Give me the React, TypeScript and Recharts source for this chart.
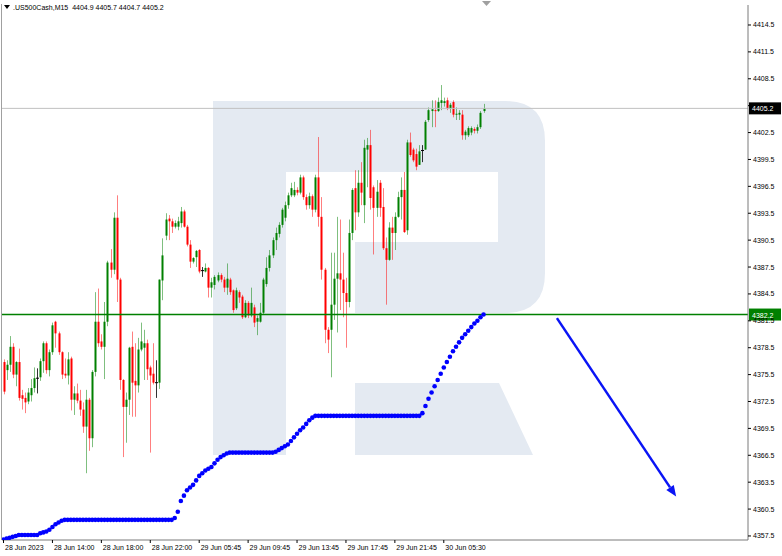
import React from 'react';
import { ComposedChart, Bar, Line, XAxis, YAxis, ReferenceLine } from 'recharts';

// M15 candles
const opens = [
  4376.9, 4376.0, 4376.6, 4378.6, 4375.5, 4376.9, 4373.2, 4372.9, 4372.5, 4373.2,
  4374.0, 4375.1, 4375.2, 4377.0, 4379.0, 4376.0, 4378.0, 4381.4, 4380.1, 4378.0,
  4375.6, 4375.4, 4377.3, 4372.7, 4373.4, 4372.6, 4371.6, 4369.7, 4372.7, 4368.4,
  4375.8, 4381.4, 4379.2, 4378.6, 4381.4, 4388.0, 4387.2, 4393.0, 4386.1, 4374.9,
  4371.9, 4372.7, 4378.6, 4374.8, 4374.3, 4378.3, 4378.5, 4379.0, 4376.3, 4375.6,
  4374.6, 4374.6, 4386.0, 4391.0, 4392.9, 4392.6, 4392.0, 4392.0, 4392.4, 4393.7,
  4392.0, 4390.0, 4388.1, 4388.6, 4389.4, 4387.1, 4387.0, 4387.4, 4385.2, 4385.5,
  4386.0, 4386.6, 4386.1, 4385.2, 4386.1, 4384.9, 4382.9, 4384.7, 4384.2, 4381.9,
  4383.5, 4382.1, 4383.0, 4381.4, 4381.4, 4382.4, 4385.6, 4387.4, 4388.8, 4390.5,
  4391.2, 4392.2, 4393.0, 4394.4, 4395.5, 4395.5, 4396.1, 4395.8, 4397.5, 4395.3,
  4394.4, 4395.4, 4393.9, 4397.5, 4393.1, 4387.2, 4380.5, 4380.5, 4383.3, 4386.2,
  4386.8, 4386.1, 4384.6, 4383.6, 4391.3, 4396.3, 4393.6, 4396.9, 4394.4, 4400.6,
  4401.1, 4396.4, 4394.1, 4396.9, 4394.2, 4389.6, 4388.3, 4391.9, 4391.3, 4393.1,
  4395.3, 4396.1, 4391.6, 4401.4, 4400.6, 4400.1, 4398.9, 4400.5, 4400.6, 4403.9,
  4404.9, 4405.0, 4404.9, 4405.8, 4405.8, 4406.1, 4405.2, 4405.9, 4404.5, 4404.5,
  4404.5, 4402.2, 4402.2, 4402.5, 4402.9, 4402.7, 4403.1, 4404.9,
];
const highs = [
  4377.2, 4377.1, 4379.8, 4379.0, 4377.0, 4378.4, 4373.8, 4373.5, 4374.0, 4375.0,
  4376.3, 4376.2, 4377.3, 4379.2, 4379.2, 4378.3, 4381.3, 4381.5, 4380.3, 4378.1,
  4377.3, 4378.0, 4377.5, 4374.2, 4374.5, 4373.8, 4372.4, 4373.8, 4372.9, 4376.0,
  4384.7, 4385.1, 4380.0, 4383.6, 4388.2, 4389.5, 4393.6, 4395.5, 4386.3, 4375.0,
  4373.5, 4378.6, 4380.3, 4379.0, 4379.6, 4381.3, 4380.5, 4379.4, 4376.5, 4379.0,
  4377.1, 4386.1, 4390.7, 4393.5, 4393.3, 4392.9, 4392.7, 4393.1, 4394.2, 4393.9,
  4392.2, 4390.5, 4388.6, 4389.4, 4389.5, 4387.5, 4387.9, 4387.5, 4386.3, 4386.6,
  4386.9, 4386.8, 4386.4, 4387.9, 4386.3, 4385.0, 4385.2, 4384.9, 4384.4, 4383.8,
  4383.7, 4385.2, 4383.3, 4382.1, 4383.5, 4386.3, 4388.6, 4389.4, 4390.8, 4391.9,
  4392.5, 4394.1, 4394.8, 4395.8, 4396.9, 4397.0, 4396.4, 4397.8, 4397.7, 4395.6,
  4395.8, 4395.6, 4397.8, 4402.0, 4395.3, 4387.4, 4380.8, 4389.1, 4389.1, 4393.1,
  4392.8, 4389.1, 4386.3, 4392.8, 4396.3, 4398.3, 4398.3, 4399.2, 4401.7, 4401.9,
  4402.8, 4396.6, 4397.2, 4397.2, 4396.3, 4390.8, 4392.5, 4393.1, 4393.6, 4395.9,
  4397.5, 4398.1, 4401.7, 4402.5, 4400.8, 4400.7, 4401.1, 4401.1, 4403.9, 4405.3,
  4406.1, 4406.1, 4406.4, 4407.8, 4406.4, 4406.4, 4405.8, 4406.1, 4405.3, 4405.0,
  4405.0, 4402.8, 4403.2, 4403.2, 4403.1, 4403.4, 4404.9, 4405.7,
];
const lows = [
  4373.3, 4374.9, 4375.8, 4375.1, 4374.2, 4372.6, 4371.6, 4371.2, 4372.2, 4372.5,
  4373.5, 4373.4, 4374.8, 4375.7, 4375.6, 4375.3, 4377.7, 4378.5, 4377.7, 4375.0,
  4375.1, 4374.4, 4371.5, 4371.0, 4372.3, 4370.9, 4369.0, 4364.5, 4367.0, 4367.4,
  4375.3, 4378.6, 4378.3, 4375.0, 4380.9, 4386.3, 4386.7, 4383.6, 4373.8, 4366.3,
  4367.9, 4371.0, 4370.8, 4370.8, 4373.5, 4378.1, 4374.9, 4374.9, 4366.8, 4374.4,
  4372.9, 4373.9, 4383.8, 4390.5, 4390.5, 4391.3, 4391.8, 4391.6, 4391.9, 4391.9,
  4389.8, 4387.4, 4387.9, 4387.5, 4386.8, 4386.4, 4386.9, 4384.1, 4384.1, 4385.0,
  4385.8, 4385.8, 4384.7, 4384.4, 4384.4, 4382.4, 4382.7, 4383.5, 4381.7, 4381.8,
  4381.8, 4381.9, 4380.8, 4379.9, 4381.3, 4382.2, 4385.3, 4387.0, 4388.5, 4389.4,
  4390.8, 4391.9, 4392.6, 4394.0, 4395.3, 4395.3, 4395.5, 4395.6, 4395.0, 4393.9,
  4394.0, 4393.1, 4393.6, 4392.0, 4386.1, 4379.0, 4377.9, 4375.2, 4381.6, 4380.2,
  4382.7, 4381.9, 4378.5, 4383.0, 4390.5, 4391.6, 4393.1, 4394.4, 4392.4, 4396.4,
  4393.9, 4388.9, 4393.1, 4393.1, 4389.4, 4383.3, 4388.2, 4388.3, 4389.4, 4393.0,
  4392.8, 4391.3, 4391.1, 4399.8, 4399.2, 4398.3, 4398.9, 4399.2, 4400.6, 4403.7,
  4403.1, 4403.1, 4404.8, 4405.0, 4405.4, 4405.0, 4404.7, 4404.2, 4403.9, 4403.9,
  4401.7, 4401.7, 4402.0, 4402.2, 4402.4, 4402.4, 4402.9, 4404.7,
];
const closes = [
  4373.6, 4376.6, 4378.6, 4375.5, 4376.9, 4372.9, 4372.8, 4372.4, 4373.5, 4374.0,
  4375.1, 4375.1, 4377.0, 4379.0, 4376.0, 4378.0, 4381.0, 4380.1, 4378.0, 4375.5,
  4375.4, 4377.2, 4372.7, 4373.4, 4372.6, 4371.6, 4369.7, 4372.7, 4368.4, 4375.8,
  4381.4, 4379.0, 4378.6, 4381.4, 4388.0, 4387.2, 4393.0, 4386.1, 4374.9, 4371.9,
  4372.7, 4378.5, 4374.6, 4374.3, 4378.3, 4379.2, 4379.0, 4376.1, 4375.4, 4374.6,
  4374.6, 4386.1, 4388.8, 4392.8, 4392.6, 4392.0, 4392.4, 4392.6, 4393.7, 4392.0,
  4390.0, 4388.1, 4388.5, 4389.3, 4387.0, 4387.1, 4387.4, 4385.2, 4385.8, 4386.4,
  4386.6, 4386.1, 4385.2, 4386.2, 4384.7, 4382.7, 4384.9, 4384.1, 4381.9, 4383.5,
  4382.1, 4383.5, 4381.3, 4381.8, 4382.4, 4386.1, 4387.4, 4388.8, 4390.5, 4391.3,
  4392.2, 4393.9, 4394.4, 4395.5, 4396.3, 4396.1, 4395.8, 4397.5, 4395.3, 4394.4,
  4395.4, 4393.9, 4397.5, 4393.1, 4387.2, 4380.5, 4379.4, 4383.3, 4386.2, 4386.8,
  4386.1, 4384.6, 4383.6, 4391.3, 4396.1, 4393.6, 4396.9, 4395.8, 4400.8, 4401.1,
  4395.2, 4394.1, 4395.9, 4394.1, 4389.6, 4388.3, 4391.9, 4391.3, 4393.1, 4395.3,
  4396.1, 4391.4, 4401.4, 4400.0, 4399.4, 4398.7, 4400.4, 4400.5, 4403.7, 4405.0,
  4405.1, 4404.9, 4405.9, 4406.1, 4406.0, 4405.2, 4405.6, 4404.5, 4404.6, 4404.7,
  4402.2, 4402.6, 4403.0, 4403.0, 4402.7, 4403.1, 4404.7, 4405.2,
];
// blue dotted trailing line, one dot per candle
const trailDots = [
  4357.1, 4357.2, 4357.3, 4357.4, 4357.5, 4357.6, 4357.6, 4357.6, 4357.6, 4357.6,
  4357.6, 4357.6, 4357.8, 4357.9, 4358.0, 4358.2, 4358.5, 4358.8, 4359.0, 4359.2,
  4359.3, 4359.3, 4359.3, 4359.3, 4359.3, 4359.3, 4359.3, 4359.3, 4359.3, 4359.3,
  4359.3, 4359.3, 4359.3, 4359.3, 4359.3, 4359.3, 4359.3, 4359.3, 4359.3, 4359.3,
  4359.3, 4359.3, 4359.3, 4359.3, 4359.3, 4359.3, 4359.3, 4359.3, 4359.3, 4359.3,
  4359.3, 4359.3, 4359.3, 4359.3, 4359.3, 4359.3, 4359.5, 4360.2, 4361.4, 4362.0,
  4362.6, 4362.9, 4363.2, 4363.7, 4364.2, 4364.5, 4364.8, 4365.0, 4365.2, 4365.6,
  4366.0, 4366.3, 4366.5, 4366.7, 4366.8, 4366.8, 4366.8, 4366.8, 4366.8, 4366.8,
  4366.8, 4366.8, 4366.8, 4366.8, 4366.8, 4366.8, 4366.8, 4366.8, 4366.8, 4366.9,
  4367.1, 4367.3, 4367.5, 4367.7, 4368.1, 4368.5, 4368.9, 4369.3, 4369.6, 4370.0,
  4370.4, 4370.7, 4370.9, 4370.9, 4370.9, 4370.9, 4370.9, 4370.9, 4370.9, 4370.9,
  4370.9, 4370.9, 4370.9, 4370.9, 4370.9, 4370.9, 4370.9, 4370.9, 4370.9, 4370.9,
  4370.9, 4370.9, 4370.9, 4370.9, 4370.9, 4370.9, 4370.9, 4370.9, 4370.9, 4370.9,
  4370.9, 4370.9, 4370.9, 4370.9, 4370.9, 4370.9, 4370.9, 4371.2, 4372.0, 4372.8,
  4373.5, 4374.2, 4374.9, 4375.6, 4376.3, 4376.9, 4377.5, 4378.1, 4378.6, 4379.1,
  4379.6, 4380.0, 4380.4, 4380.8, 4381.2, 4381.5, 4381.9, 4382.2,
];

const tickSlots = [0, 16, 32, 48, 64, 80, 96, 112, 128, 144];
const tickLabels = [
  '28 Jun 2023', '28 Jun 14:00', '28 Jun 18:00', '28 Jun 22:00', '29 Jun 05:45',
  '29 Jun 09:45', '29 Jun 13:45', '29 Jun 17:45', '29 Jun 21:45', '30 Jun 05:30',
];
const priceTicks = [
  4357.5, 4360.5, 4363.5, 4366.5, 4369.5, 4372.5, 4375.5, 4378.5, 4381.5, 4384.5,
  4387.5, 4390.5, 4393.5, 4396.5, 4399.5, 4402.5, 4405.5, 4408.5, 4411.5, 4414.5,
];
const levelPrice = 4382.2;
const lastPrice = 4405.2;
const arrowFrom = { slot: 181, price: 4381.8 };
const arrowTo = { slot: 220, price: 4361.9 };
const slotCount = 244;

const FONT = '"Liberation Sans", Arial, sans-serif';

const rows = Array.from({ length: slotCount }, (_, i) =>
  i < opens.length
    ? { slot: i, range: [lows[i], highs[i]], open: opens[i], close: closes[i], trail: trailDots[i] }
    : { slot: i }
);

const Candle = (props: any) => {
  const { x, y, width, height, payload } = props;
  if (!payload || payload.open == null) return null;
  const top = Math.min(y, y + height);
  const h = Math.abs(height);
  const [lo, hi] = payload.range;
  const k = h / (hi - lo || 1);
  const cx = Math.round(x + width / 2);
  const yo = top + (hi - payload.open) * k;
  const yc = top + (hi - payload.close) * k;
  const up = payload.close > payload.open;
  const flat = payload.close === payload.open;
  const col = flat ? '#000000' : up ? '#008000' : '#ff0000';
  const bt = Math.min(yo, yc);
  const bh = Math.max(Math.abs(yc - yo), 1);
  return (
    <g>
      <line x1={cx + 0.5} x2={cx + 0.5} y1={top} y2={top + h} stroke={col} strokeOpacity={flat ? 0.8 : 0.5} strokeWidth={1} />
      {flat ? (
        <line x1={cx - 1} x2={cx + 2} y1={yo} y2={yo} stroke={col} strokeWidth={1} />
      ) : (
        <rect x={cx - 0.5} y={bt} width={2} height={bh} fill={col} />
      )}
    </g>
  );
};

const TimeTick = (props: any) => {
  const { x, y, payload } = props;
  const n = tickSlots.indexOf(payload.value);
  if (n < 0) return null;
  return (
    <g>
      <line x1={x} x2={x} y1={y} y2={y + 3} stroke="#000" strokeWidth={1} />
      <text x={x + 1.5} y={y + 10} fontSize={7} fontFamily={FONT} fill="#000" textAnchor="start">
        {tickLabels[n]}
      </text>
    </g>
  );
};

// the price tag of the last bid hides the tick right under it
const PriceTick = (props: any) => {
  const { x, y, payload } = props;
  if (Math.abs(payload.value - lastPrice) < 0.6) return null;
  return (
    <text x={x} y={y + 2.5} fontSize={7} fontFamily={FONT} fill="#000" textAnchor="start">
      {payload.value.toFixed(1)}
    </text>
  );
};

const PriceTag = (props: any) => {
  const { viewBox, bg, value } = props;
  if (!viewBox) return null;
  const x = viewBox.x + viewBox.width + 1;
  const y = viewBox.y;
  return (
    <g>
      <rect x={x} y={y - 6} width={32} height={12} fill={bg} />
      <text x={x + 3} y={y + 3} fontSize={7} fontFamily={FONT} fill="#fff">
        {value.toFixed(1)}
      </text>
    </g>
  );
};

const ArrowShape = (props: any) => {
  const { x1, y1, x2, y2 } = props;
  if ([x1, y1, x2, y2].some((v) => v == null || isNaN(v))) return null;
  const a = Math.atan2(y2 - y1, x2 - x1);
  const len = 11;
  const wd = 4.5;
  const bx = x2 - len * Math.cos(a);
  const by = y2 - len * Math.sin(a);
  const p1 = `${bx + wd * Math.sin(a)},${by - wd * Math.cos(a)}`;
  const p2 = `${bx - wd * Math.sin(a)},${by + wd * Math.cos(a)}`;
  return (
    <g>
      <line x1={x1} y1={y1} x2={bx} y2={by} stroke="#0a14f5" strokeWidth={2.5} />
      <polygon points={`${x2},${y2} ${p1} ${p2}`} fill="#0a14f5" />
    </g>
  );
};

// light logo in the background
const Watermark = () => (
  <svg width={782} height={556} style={{ position: 'absolute', left: 0, top: 0 }}>
    <g fill="#e4eaf2">
      <rect x={213} y={101} width={73} height={354} />
      <path d="M286,101 H505 Q545,101 545,141 V273 Q545,313 505,313 H355 V242 H498 V172 H286 Z" />
      <path d="M355,383 H499 L533,455 H355 Z" />
    </g>
  </svg>
);

export default function App() {
  return (
    <div style={{ position: 'relative', width: 782, height: 556, background: '#fff', overflow: 'hidden' }}>
      <style>{`body{margin:0}`}</style>
      <Watermark />
      <ComposedChart
        width={782}
        height={556}
        data={rows}
        margin={{ top: 5, right: 0, bottom: 0, left: 2 }}
        barCategoryGap={0}
      >
        <XAxis
          dataKey="slot"
          type="category"
          ticks={tickSlots}
          interval={0}
          height={16}
          tickSize={0}
          tickMargin={0}
          tick={<TimeTick />}
          axisLine={{ stroke: '#7a7a7a' }}
          tickLine={false}
        />
        <YAxis
          orientation="right"
          width={34}
          domain={[4357.05, 4416.73]}
          allowDataOverflow
          ticks={priceTicks}
          interval={0}
          tickSize={3}
          tickMargin={2}
          tick={<PriceTick />}
          tickLine={{ stroke: '#000' }}
          axisLine={{ stroke: '#7a7a7a' }}
        />
        <ReferenceLine y={lastPrice} stroke="#c0c0c0" strokeWidth={1} ifOverflow="visible" label={<PriceTag bg="#000000" value={lastPrice} />} />
        <ReferenceLine y={levelPrice} stroke="#008000" strokeWidth={1.6} ifOverflow="visible" label={<PriceTag bg="#008000" value={levelPrice} />} />
        <Bar dataKey="range" shape={<Candle />} isAnimationActive={false} />
        <Line
          dataKey="trail"
          stroke="none"
          dot={{ r: 2.3, fill: '#0000ff', stroke: 'none' }}
          activeDot={false}
          isAnimationActive={false}
        />
        <ReferenceLine
          segment={[
            { x: arrowFrom.slot, y: arrowFrom.price },
            { x: arrowTo.slot, y: arrowTo.price },
          ]}
          ifOverflow="visible"
          shape={<ArrowShape />}
        />
      </ComposedChart>
      <div
        style={{
          position: 'absolute',
          left: 4,
          top: 4,
          fontFamily: FONT,
          fontSize: 7,
          color: '#000',
          whiteSpace: 'pre',
          display: 'flex',
          alignItems: 'center',
        }}
      >
        <svg width={6} height={5} style={{ marginRight: 3 }}>
          <polygon points="0,0 6,0 3,4" fill="#000" />
        </svg>
        {'.US500Cash,M15  4404.9 4405.7 4404.7 4405.2'}
      </div>
      <svg width={10} height={7} style={{ position: 'absolute', left: 482, top: 1 }}>
        <polygon points="0,0 9,0 4.5,5" fill="#a0a0a0" />
      </svg>
      <div style={{ position: 'absolute', left: 1, top: 4, width: 1, height: 536, background: '#a0a0a0' }} />
    </div>
  );
}
